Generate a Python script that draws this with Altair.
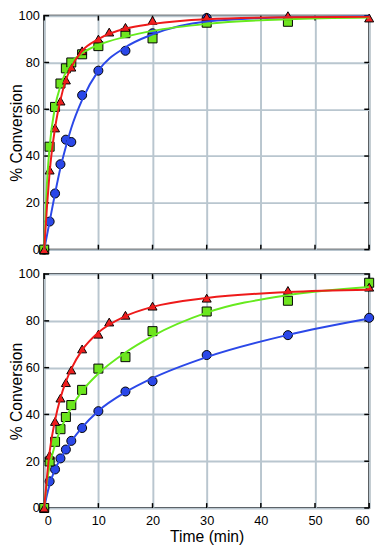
import altair as alt
import pandas as pd

# ---------------- data ----------------
series_names = ["blue", "green", "red"]

# Top panel: measured points
top_blue_x = [0, 1, 2, 3, 4, 5, 7, 10, 15, 20, 30]
top_blue_y = [0, 12, 24, 36.5, 47, 46, 66, 76.5, 85, 92.5, 99]
top_green_x = [0, 1, 2, 3, 4, 5, 7, 10, 15, 20, 30, 45]
top_green_y = [0, 44, 61, 71, 77.5, 80, 83.5, 87, 92.5, 90.3, 97, 97.4]
top_red_x = [0, 1, 2, 3, 4, 5, 7, 10, 12, 15, 20, 30, 45, 60]
top_red_y = [0, 34, 52, 63.5, 72.5, 78, 85, 90, 93, 95, 98, 99.5, 100, 99]

# Top panel: fitted curves
fit_x = [0, 0.5, 1, 2, 3, 4, 5, 7, 10, 15, 20, 30, 45, 60]
top_blue_fit = [0, 6, 12, 24, 35, 44, 52, 64, 76.5, 86.5, 92, 97.5, 99.3, 99.7]
top_green_fit = [0, 28, 44, 61, 70, 76, 80, 84, 87.5, 91, 93.5, 96.5, 98.5, 99.2]
top_red_fit = [0, 18, 33, 52, 64, 72.5, 78, 85, 90, 94.5, 96.5, 98.5, 99.3, 99.5]

# Bottom panel: measured points
bot_blue_x = [0, 1, 2, 3, 4, 5, 7, 10, 15, 20, 30, 45, 60]
bot_blue_y = [0, 11.4, 16.5, 21.2, 25, 28.7, 34.2, 41.4, 49.8, 54.2, 65.4, 73.9, 81.3]
bot_green_x = [0, 1, 2, 3, 4, 5, 7, 10, 15, 20, 30, 45, 60]
bot_green_y = [0, 19.9, 28.3, 33.7, 38.9, 44, 50.5, 59.6, 64.5, 75.6, 84, 88.6, 96.3]
bot_red_x = [0, 1, 2, 3, 4, 5, 7, 10, 12, 15, 20, 30, 45, 60]
bot_red_y = [0, 22.6, 37, 47, 53.6, 59, 68, 74.3, 79.5, 82.4, 86.3, 89.7, 93, 94.4]

# Bottom panel: fitted curves
bot_blue_fit = [0, 5.5, 10, 16.5, 21, 25, 28.5, 34.5, 41.5, 49.5, 55.5, 64.5, 74, 81]
bot_green_fit = [0, 11, 18, 27, 33.5, 38.5, 43, 50, 57.5, 66.5, 73.5, 83.5, 91, 94.5]
bot_red_fit = [0, 13, 24, 37.5, 47, 54, 59.5, 67.5, 75, 82, 86, 89.8, 92.3, 93.3]

x_ticks = [0, 10, 20, 30, 40, 50, 60]
y_ticks = [0, 20, 40, 60, 80, 100]

# ---------------- styling ----------------
W, H = 332, 239
FONT = "Liberation Sans"
GRID = "#b9c6cf"
point_fill = ["#2b48e8", "#6fe41f", "#ee2222"]
line_col = ["#2b48e8", "#66ea1e", "#ee1a1a"]
shapes = ["circle", "square", "triangle-up"]


def pts_df(xs_list, ys_list):
    rows = []
    for name, xs, ys in zip(series_names, xs_list, ys_list):
        for x, y in zip(xs, ys):
            rows.append({"series": name, "t": x, "c": y})
    return pd.DataFrame(rows)


def fit_df(fits):
    rows = []
    for name, ys in zip(series_names, fits):
        for i, (x, y) in enumerate(zip(fit_x, ys)):
            rows.append({"series": name, "t": x, "c": y, "i": i})
    return pd.DataFrame(rows)


xscale = alt.Scale(domain=[0, 60], nice=False, zero=False)
yscale = alt.Scale(domain=[0, 100], nice=False)


def panel(pdf, fdf, bottom):
    if bottom:
        xaxis = alt.Axis(values=x_ticks, grid=True, gridColor=GRID, gridWidth=2,
                         domain=False, ticks=False, labelFontSize=13,
                         labelPadding=7, labelFont=FONT, labelColor="black",
                         title="Time (min)", titleFont=FONT, titleFontSize=16,
                         titleFontWeight="normal", titlePadding=1,
                         titleColor="black")
        xt = "Time (min)"
    else:
        xaxis = alt.Axis(values=x_ticks, grid=True, gridColor=GRID, gridWidth=2,
                         domain=False, ticks=False, labels=False)
        xt = None
    yaxis = alt.Axis(values=y_ticks, grid=True, gridColor=GRID, gridWidth=2,
                     domain=False, ticks=False, labelFontSize=13, labelPadding=5,
                     labelFont=FONT, labelColor="black",
                     title="% Conversion", titleFont=FONT, titleFontSize=16,
                     titleFontWeight="normal", titleColor="black",
                     titleX=-28, titleBaseline="middle")

    grid_layer = alt.Chart(pdf).mark_point(opacity=0).encode(
        x=alt.X("t:Q", scale=xscale, axis=xaxis, title=xt),
        y=alt.Y("c:Q", scale=yscale, axis=yaxis, title="% Conversion"),
    )

    points = alt.Chart(pdf).mark_point(filled=True, stroke="black",
                                       strokeWidth=1, size=85, opacity=1).encode(
        x=alt.X("t:Q", scale=xscale),
        y=alt.Y("c:Q", scale=yscale),
        shape=alt.Shape("series:N", scale=alt.Scale(domain=series_names, range=shapes), legend=None),
        fill=alt.Fill("series:N", scale=alt.Scale(domain=series_names, range=point_fill), legend=None),
    )

    lines = alt.Chart(fdf).mark_line(strokeWidth=2, interpolate="monotone").encode(
        x=alt.X("t:Q", scale=xscale),
        y=alt.Y("c:Q", scale=yscale),
        color=alt.Color("series:N", scale=alt.Scale(domain=series_names, range=line_col), legend=None),
        order="i:Q",
    )

    xt_df = pd.DataFrame({"t": x_ticks})
    yt_df = pd.DataFrame({"c": y_ticks})
    tick_b = alt.Chart(xt_df).mark_rule(color="black", strokeWidth=1.5).encode(
        x=alt.X("t:Q", scale=xscale), y=alt.value(H), y2=alt.value(H - 5))
    tick_t = alt.Chart(xt_df).mark_rule(color="black", strokeWidth=1.5).encode(
        x=alt.X("t:Q", scale=xscale), y=alt.value(0), y2=alt.value(5))
    tick_l = alt.Chart(yt_df).mark_rule(color="black", strokeWidth=1.5).encode(
        y=alt.Y("c:Q", scale=yscale), x=alt.value(0), x2=alt.value(5))
    tick_r = alt.Chart(yt_df).mark_rule(color="black", strokeWidth=1.5).encode(
        y=alt.Y("c:Q", scale=yscale), x=alt.value(W), x2=alt.value(W - 5))

    return alt.layer(grid_layer, tick_b, tick_t, tick_l, tick_r, points, lines).properties(
        width=W, height=H)


top = panel(
    pts_df([top_blue_x, top_green_x, top_red_x], [top_blue_y, top_green_y, top_red_y]),
    fit_df([top_blue_fit, top_green_fit, top_red_fit]),
    bottom=False,
)
bot = panel(
    pts_df([bot_blue_x, bot_green_x, bot_red_x], [bot_blue_y, bot_green_y, bot_red_y]),
    fit_df([bot_blue_fit, bot_green_fit, bot_red_fit]),
    bottom=True,
)

chart = alt.vconcat(top, bot, spacing=10).properties(
    padding={"left": 0, "top": -5, "right": 0, "bottom": -3},
    background="white",
).configure_view(stroke="black", strokeWidth=2)

chart.save("out.html", embed_options={"renderer": "svg", "actions": False})
